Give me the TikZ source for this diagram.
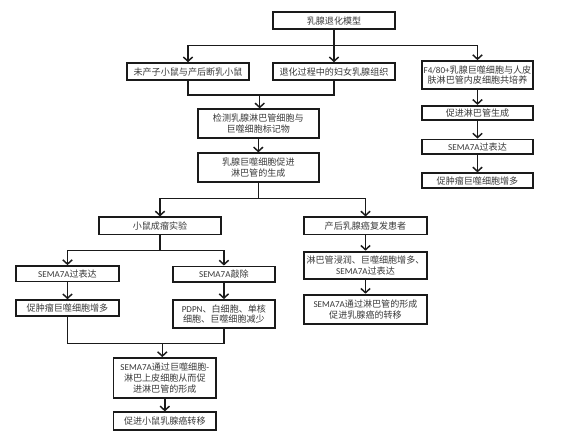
\documentclass[tikz,border=0pt]{standalone}
\usepackage{fontspec}
\setmainfont{Noto Sans CJK SC}
\newfontfamily\lat{Carlito}
\usepackage{xcolor}
\definecolor{ink}{HTML}{1A1A1A}
\definecolor{txt}{HTML}{3A3A3A}
\usepackage{tikz}
\usetikzlibrary{arrows.meta,positioning,calc}
\tikzset{
  >={Straight Barb[length=3.2pt,width=7pt,line width=1.1pt]},
  box/.style={draw=ink,line width=1.4pt,inner sep=1pt,align=center,fill=white,
    font=\fontsize{6.8}{8}\selectfont\color{txt}},
  wbox/.style={box,minimum width=92pt,minimum height=12.8pt},
  nbox/.style={box,minimum width=77pt,minimum height=11.6pt},
  line/.style={draw=ink,line width=1.1pt},
  arr/.style={->,line},
}
\begin{document}
\begin{tikzpicture}[x=0.75pt,y=-0.75pt]
\useasboundingbox (0,0) rectangle (564,447);
% top level
\node[wbox] (root) at (334,20.7) {乳腺退化模型};
\node[wbox] (mouse) at (188,71.7) {未产子小鼠与产后断乳小鼠};
\node[wbox] (woman) at (334,71.7) {退化过程中的妇女乳腺组织};
\node[box,minimum width=83.7pt,minimum height=21.2pt] (cocult) at (477.5,75.2) {{\lat F4/80+}乳腺巨噬细胞与人皮\\肤淋巴管内皮细胞共培养};
% right column
\node[box,minimum width=83.7pt,minimum height=10.8pt] (lymph) at (477.5,113) {促进淋巴管生成};
\node[box,minimum width=83.7pt,minimum height=10.8pt] (semaR) at (477.5,146.7) {{\lat SEMA7A}过表达};
\node[box,minimum width=83.7pt,minimum height=11.2pt] (tamR) at (477.5,180.8) {促肿瘤巨噬细胞增多};
% middle column
\node[wbox,minimum width=90.5pt,minimum height=21.3pt] (detect) at (258.3,123.5) {检测乳腺淋巴管细胞与\\巨噬细胞标记物};
\node[wbox,minimum width=90.5pt,minimum height=21.3pt] (promote) at (258.3,167.5) {乳腺巨噬细胞促进\\淋巴管的生成};
\node[wbox] (tumor) at (160,225.9) {小鼠成瘤实验};
\node[wbox] (relapse) at (365.5,225.9) {产后乳腺癌复发患者};
\node[wbox,minimum height=20.5pt] (infil) at (365.5,265.3) {淋巴管浸润、巨噬细胞增多、\\{\lat SEMA7A}过表达};
\node[wbox,minimum height=22pt] (meta) at (365.5,309.3) {{\lat SEMA7A}通过淋巴管的形成\\促进乳腺癌的转移};
% mouse experiment
\node[nbox] (overexp) at (67.5,273.8) {{\lat SEMA7A}过表达};
\node[nbox] (knock) at (223.9,274.2) {{\lat SEMA7A}敲除};
\node[nbox] (tamL) at (67.5,307.9) {促肿瘤巨噬细胞增多};
\node[nbox,minimum height=21pt] (pdpn) at (223.9,314) {{\lat PDPN}、白细胞、单核\\细胞、巨噬细胞减少};
\node[nbox,minimum height=30pt] (mech) at (164.8,378) {{\lat SEMA7A}通过巨噬细胞{\lat -}\\淋巴上皮细胞从而促\\进淋巴管的形成};
\node[nbox,minimum height=13.3pt] (spread) at (164.8,421.2) {促进小鼠乳腺癌转移};
% junctions
\coordinate (b1) at (334,45.7);
\coordinate (j1) at (259.7,95);
\coordinate (b2) at (258.3,198.3);
\coordinate (b3) at (160,250.7);
\coordinate (j2) at (162.3,343.3);
% connectors
\draw[line] (root) -- (b1);
\draw[arr] (b1) -| (mouse.north);
\draw[arr] (b1) -- (woman.north);
\draw[arr] (b1) -| (cocult.north);
\draw[line] (mouse.south) |- (j1) -| (woman.south);
\draw[arr] (j1) -- (j1 |- detect.north);
\draw[arr] (detect) -- (promote);
\draw[line] (promote) -- (b2);
\draw[arr] (b2) -| (tumor.north);
\draw[arr] (b2) -| (relapse.north);
\draw[arr] (cocult) -- (lymph);
\draw[arr] (lymph) -- (semaR);
\draw[arr] (semaR) -- (tamR);
\draw[arr] (relapse) -- (infil);
\draw[arr] (infil) -- (meta);
\draw[line] (tumor) -- (b3);
\draw[arr] (b3) -| (overexp.north);
\draw[arr] (b3) -| (knock.north);
\draw[arr] (overexp) -- (tamL);
\draw[arr] (knock) -- (pdpn);
\draw[line] (tamL.south) |- (j2) -| (pdpn.south);
\draw[arr] (j2) -- (j2 |- mech.north);
\draw[arr] (mech) -- (spread);
\end{tikzpicture}
\end{document}
